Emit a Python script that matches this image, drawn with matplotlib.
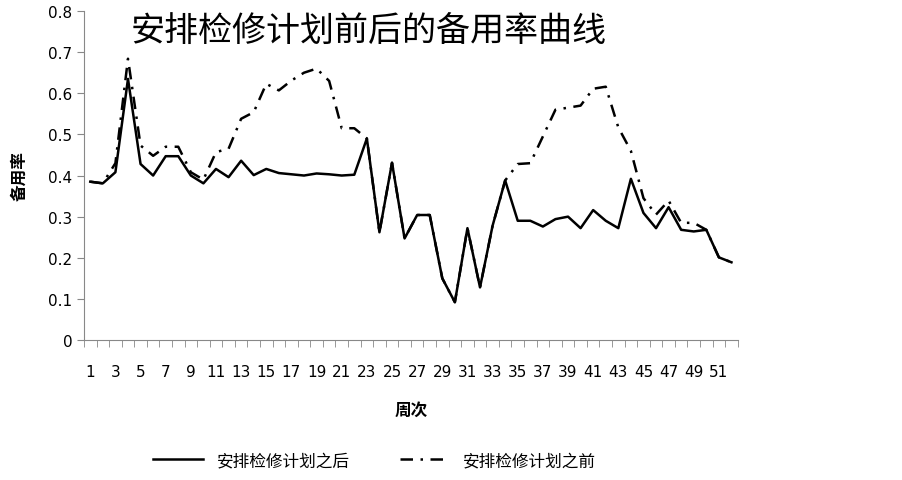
import numpy as np
import matplotlib.pyplot as plt

plt.rcParams['font.family'] = ['Noto Sans CJK SC', 'DejaVu Sans']

weeks = list(range(1, 53))

# 安排检修计划之后
after = [0.385, 0.381, 0.408, 0.635, 0.428, 0.400, 0.447, 0.447, 0.400, 0.381,
         0.416, 0.396, 0.436, 0.401, 0.416, 0.406, 0.403, 0.400, 0.405, 0.403,
         0.400, 0.402, 0.490, 0.262, 0.431, 0.247, 0.304, 0.304, 0.150, 0.092,
         0.272, 0.128, 0.278, 0.388, 0.290, 0.290, 0.276, 0.294, 0.300, 0.272,
         0.316, 0.290, 0.272, 0.392, 0.309, 0.272, 0.323, 0.268, 0.264, 0.268,
         0.201, 0.189]

# 安排检修计划之前
before = [0.385, 0.381, 0.430, 0.684, 0.473, 0.448, 0.470, 0.470, 0.408, 0.390,
          0.457, 0.465, 0.538, 0.554, 0.623, 0.607, 0.631, 0.650, 0.660, 0.630,
          0.515, 0.515, 0.490, 0.262, 0.431, 0.247, 0.304, 0.304, 0.150, 0.092,
          0.272, 0.128, 0.278, 0.388, 0.428, 0.430, 0.495, 0.560, 0.565, 0.570,
          0.611, 0.616, 0.517, 0.460, 0.345, 0.305, 0.339, 0.285, 0.285, 0.268,
          0.201, 0.189]

xtick_labels = [str(w) for w in range(1, 52, 2)]

fig = plt.figure(figsize=(9.03, 4.81), dpi=100)
ax = fig.add_axes([0.093, 0.291, 0.724, 0.684])

ax.plot(weeks, before, color='black', lw=1.8, linestyle=(0, (5, 3, 1, 3)),
        label='安排检修计划之前', zorder=2)
ax.plot(weeks, after, color='black', lw=1.8, label='安排检修计划之后', zorder=3)

ax.set_xlim(0.5, 52.5)
ax.set_ylim(0, 0.8)
ax.set_yticks(np.arange(0, 0.81, 0.1))
ax.set_yticklabels(['0' if v == 0 else f'{v:.1f}' for v in np.arange(0, 0.81, 0.1)],
                   family='DejaVu Sans', fontsize=11)
ax.set_xticks(range(1, 52, 2))
ax.set_xticklabels(xtick_labels, family='DejaVu Sans', fontsize=11)
ax.set_xticks(np.arange(0.5, 53, 1), minor=True)
ax.tick_params(axis='x', which='major', length=0, pad=17)
ax.tick_params(axis='x', which='minor', length=5, color='#888888')
ax.tick_params(axis='y', length=5, color='#888888')

for s in ['top', 'right']:
    ax.spines[s].set_visible(False)
for s in ['left', 'bottom']:
    ax.spines[s].set_color('#888888')

ax.set_ylabel('备用率', fontsize=12, fontweight='bold', labelpad=14)
ax.set_xlabel('周次', fontsize=12, fontweight='bold', labelpad=16)

fig.text(0.408, 0.935, '安排检修计划前后的备用率曲线', fontsize=24.5,
         ha='center', va='center')

handles, labels = ax.get_legend_handles_labels()
fig.legend(handles[::-1], labels[::-1], loc='center', ncol=2,
           bbox_to_anchor=(0.415, 0.04), frameon=False, fontsize=12,
           handlelength=3, columnspacing=3)

fig.savefig('out.png', dpi=100)
